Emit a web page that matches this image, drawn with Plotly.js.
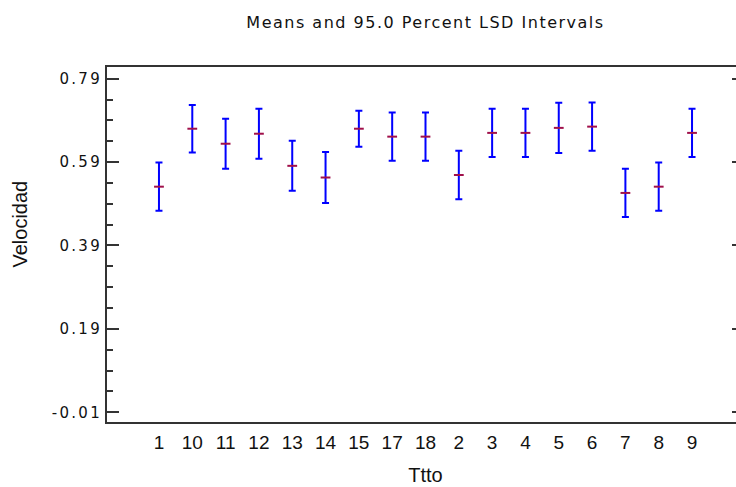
<!DOCTYPE html>
<html>
<head>
<meta charset="utf-8">
<script src="https://cdn.plot.ly/plotly-3.0.1.min.js"></script>
<style>
  html, body { margin: 0; padding: 0; background: #ffffff; overflow: hidden; }
  #chart { width: 750px; height: 487px; }
  .ytick text { letter-spacing: 2.3px; }
  .gtitle { letter-spacing: 1.5px; }
</style>
</head>
<body>
<div id="chart"></div>
<script>
// Data
const categories = ['1','10','11','12','13','14','15','17','18','2','3','4','5','6','7','8','9'];
const means      = [0.531, 0.670, 0.634, 0.658, 0.581, 0.553, 0.670, 0.651, 0.651, 0.559, 0.660, 0.660, 0.672, 0.675, 0.516, 0.531, 0.660];
const halfLSD    = [0.058, 0.057, 0.060, 0.060, 0.060, 0.061, 0.043, 0.058, 0.058, 0.058, 0.058, 0.058, 0.060, 0.058, 0.058, 0.058, 0.058];
const yTickVals  = [-0.01, 0.19, 0.39, 0.59, 0.79];
const yTickText  = ['-0.01', '0.19', '0.39', '0.59', '0.79'];

const trace = {
  x: categories,
  y: means,
  type: 'scatter',
  mode: 'markers',
  marker: { symbol: 'line-ew-open', size: 7, color: '#a0104a', line: { color: '#a0104a', width: 2 } },
  error_y: { type: 'data', array: halfLSD, visible: true, color: '#0000ff', thickness: 2, width: 3.5 },
  hoverinfo: 'x+y',
  showlegend: false
};

const layout = {
  width: 750,
  height: 487,
  margin: { l: 107, r: 6, t: 67, b: 65 },
  paper_bgcolor: '#ffffff',
  plot_bgcolor: '#ffffff',
  title: {
    text: 'Means and 95.0 Percent LSD Intervals',
    font: { family: 'DejaVu Sans', size: 16, color: '#111111' },
    x: 0.5, xref: 'paper', xanchor: 'center',
    y: 1 - 22 / 487, yref: 'container', yanchor: 'middle'
  },
  xaxis: {
    type: 'category',
    range: [-1.56, 17.56],
    showgrid: false,
    zeroline: false,
    showline: true,
    linecolor: '#333333',
    linewidth: 2,
    mirror: true,
    ticks: 'outside',
    ticklen: 2,
    tickcolor: 'rgba(0,0,0,0)',
    tickfont: { family: 'Liberation Sans', size: 19, color: '#111111' },
    title: { text: 'Ttto', font: { family: 'Liberation Sans', size: 20, color: '#111111' }, standoff: 16 }
  },
  yaxis: {
    range: [-0.0333, 0.818],
    showgrid: false,
    zeroline: false,
    showline: true,
    linecolor: '#333333',
    linewidth: 2,
    mirror: 'allticks',
    ticks: 'inside',
    ticklen: 12,
    tickwidth: 2,
    tickcolor: '#333333',
    tickmode: 'array',
    tickvals: yTickVals,
    ticktext: yTickText,
    ticklabelstandoff: 0,
    tickfont: { family: 'DejaVu Sans', size: 15, color: '#111111' },
    minor: { tick0: -0.01, dtick: 0.05, ticks: 'inside', ticklen: 6, tickwidth: 2, tickcolor: '#333333', showgrid: false }
  },
  annotations: [{
    text: 'Velocidad',
    xref: 'paper', yref: 'paper',
    x: (19 - 107) / 637, y: (422 - 224.5) / 355,
    xanchor: 'center', yanchor: 'middle',
    textangle: -90,
    showarrow: false,
    font: { family: 'Liberation Sans', size: 20, color: '#111111' }
  }]
};

Plotly.newPlot('chart', [trace], layout, { displayModeBar: false, staticPlot: true });
</script>
</body>
</html>
